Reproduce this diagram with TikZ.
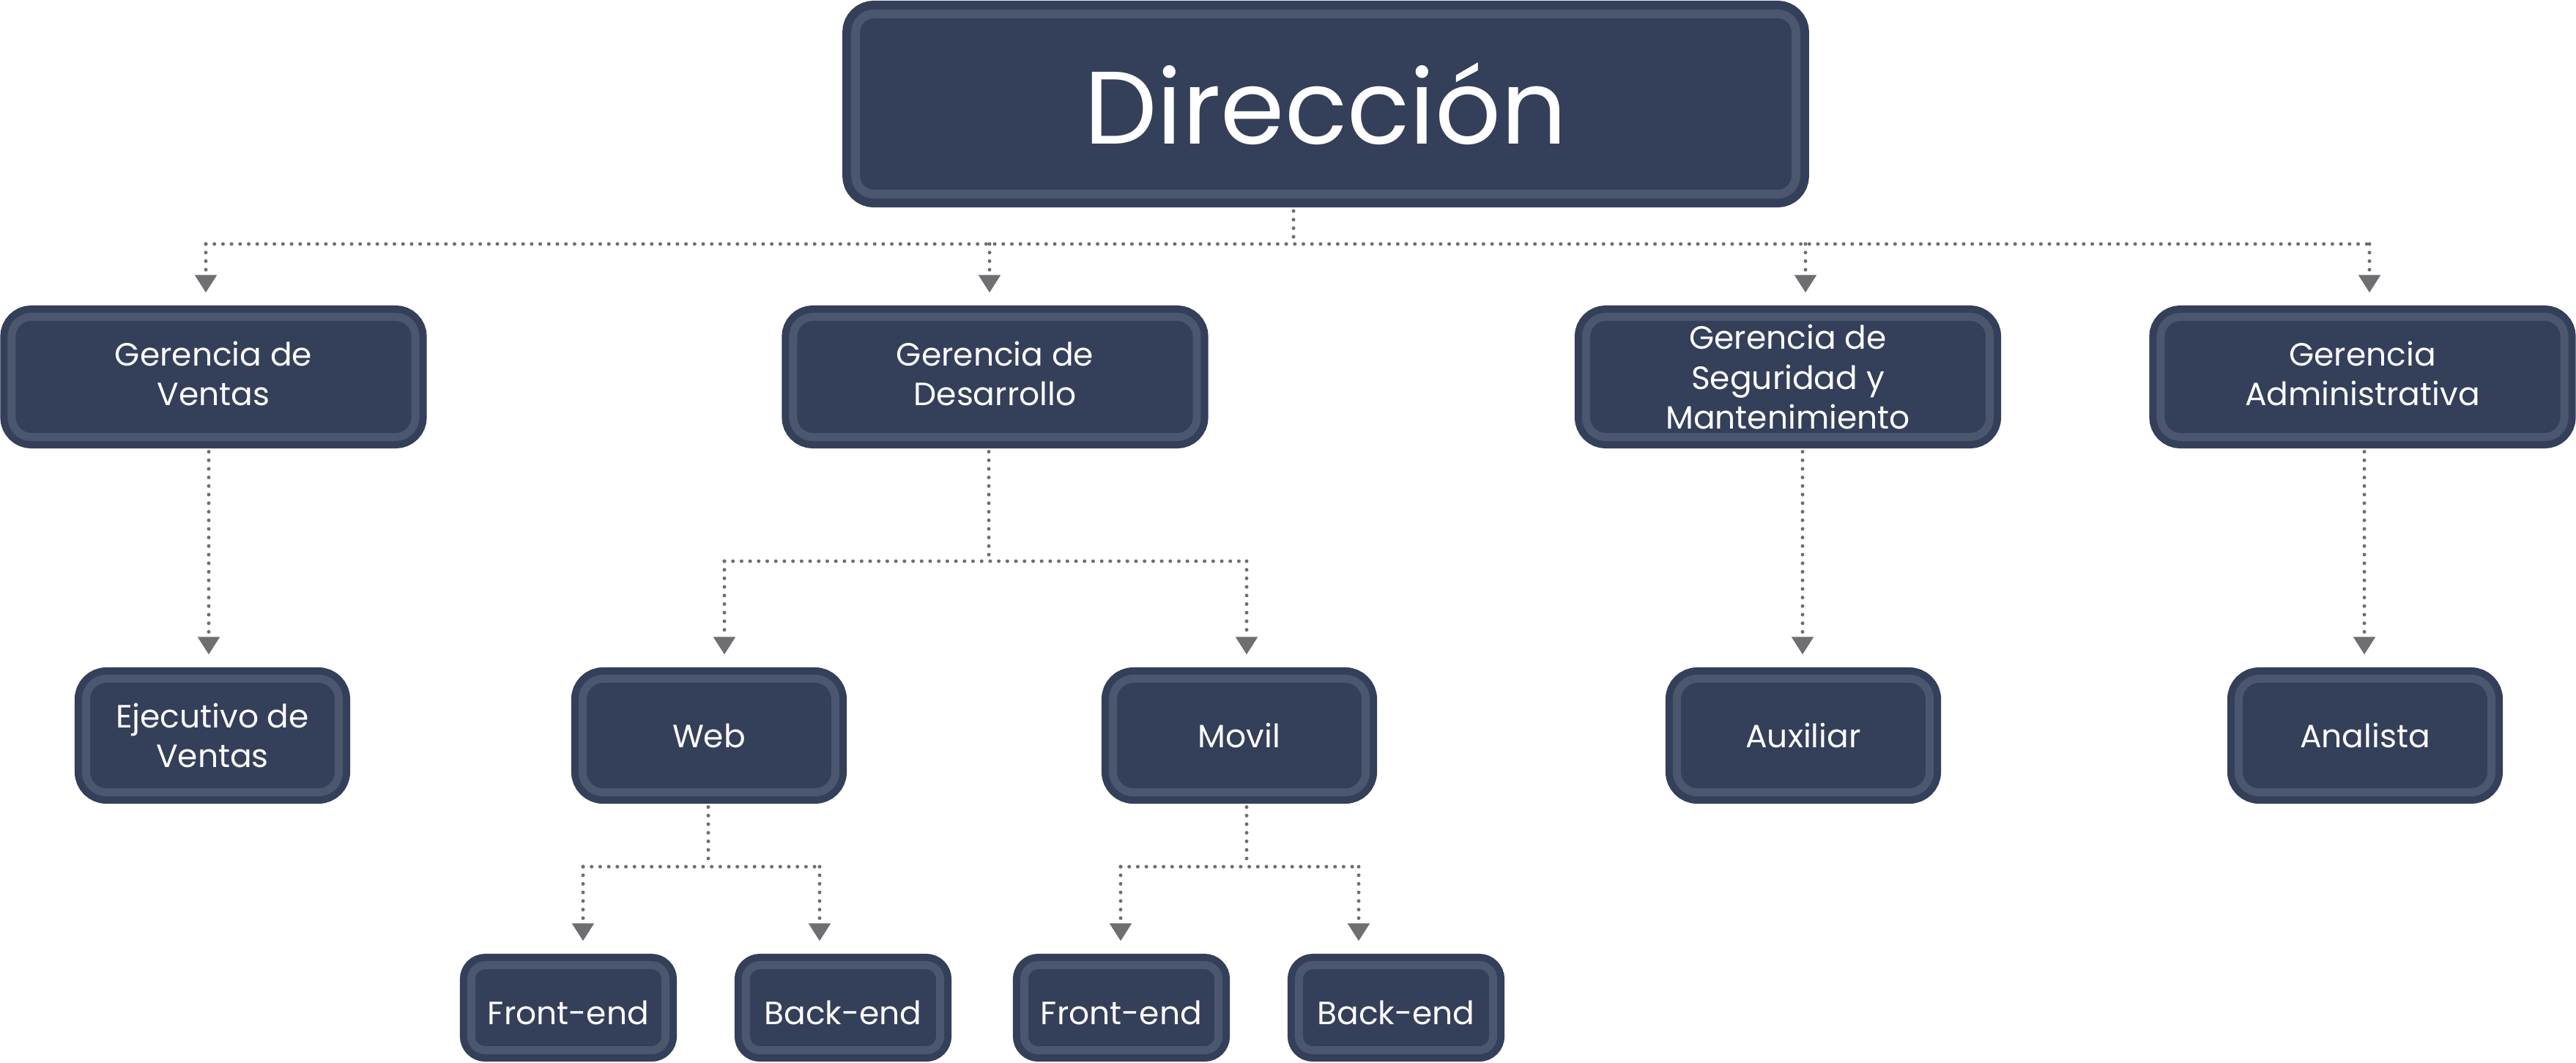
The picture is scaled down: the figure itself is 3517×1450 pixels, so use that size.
\documentclass[tikz,border=0pt]{standalone}
\usepackage{fontspec}
\setmainfont{Poppins}
\usetikzlibrary{arrows.meta}
\definecolor{boxfill}{HTML}{343F5A}
\definecolor{boxring}{HTML}{4B566F}
\definecolor{dotgray}{HTML}{6E6F73}
\tikzset{
  orgbox/.style={rounded corners=0.26cm, fill=boxfill, draw=boxfill, double=boxring,
    line width=0.10cm, double distance=0.11cm, text=white, align=center,
    inner sep=0pt, outer sep=0pt, font=\fontsize{12.5}{15.4}\selectfont},
  lvlone/.style={orgbox, rounded corners=0.27cm, minimum width=5.51cm, minimum height=1.64cm},
  lvltwo/.style={orgbox, rounded corners=0.28cm, minimum width=3.45cm, minimum height=1.55cm},
  lvlthree/.style={orgbox, rounded corners=0.19cm, minimum width=2.65cm, minimum height=1.16cm, text height=0.45cm, text depth=0pt},
  topbox/.style={orgbox, rounded corners=0.25cm, line width=0.12cm, double distance=0.12cm,
    minimum width=12.83cm, minimum height=2.46cm, font=\fontsize{40}{48}\selectfont},
  twoline/.style={text depth=0.09cm},
  dotline/.style={draw=dotgray, line width=0.05cm, dash pattern=on 0pt off 0.117cm, line cap=round},
  dotarrow/.style={dotline, -{Triangle[width=0.29cm,length=0.24cm]}, shorten >=0.33cm},
}
\begin{document}
\begin{tikzpicture}[x=0.01cm,y=-0.01cm]
\useasboundingbox (0,0) rectangle (3517,1450);
\fill[white] (0,0) rectangle (3517,1450);

% nodes
\node[topbox] (dir) at (1810,142) {Dirección};

\node[lvlone, twoline] (ventas) at (291.5,514.5) {Gerencia de\\Ventas};
\node[lvlone, twoline] (desa) at (1358.5,514.5) {Gerencia de\\Desarrollo};
\node[lvlone] (segu) at (2441,514.5) {Gerencia de\\Seguridad y\\Mantenimiento};
\node[lvlone, twoline] (admin) at (3225.5,514.5) {Gerencia\\Administrativa};

\node[lvltwo] (ejec) at (290,1004) {Ejecutivo de\\Ventas};
\node[lvltwo] (web) at (968,1004) {Web};
\node[lvltwo] (movil) at (1692,1004) {Movil};
\node[lvltwo] (aux) at (2462,1004) {Auxiliar};
\node[lvltwo] (anal) at (3229,1004) {Analista};

\node[lvlthree] (fe1) at (776,1375.5) {Front-end};
\node[lvlthree] (be1) at (1151,1375.5) {Back-end};
\node[lvlthree] (fe2) at (1531,1375.5) {Front-end};
\node[lvlthree] (be2) at (1906,1375.5) {Back-end};

% helper coordinates
\coordinate (xdir) at (1766,333);
\coordinate (bar0l) at (281,333);
\coordinate (bar0r) at (3235,333);
\coordinate (xd1) at (1351,333);
\coordinate (xd2) at (2465,333);

\coordinate (xv) at (285,0);
\coordinate (xs) at (2461,0);
\coordinate (xa) at (3228,0);
\coordinate (xdes) at (1350,766);
\coordinate (bar1l) at (989,766);
\coordinate (bar1r) at (1702,766);

\coordinate (xweb) at (967,1183);
\coordinate (bar2l) at (796,1183);
\coordinate (bar2r) at (1119,1183);
\coordinate (xmov) at (1702,1183);
\coordinate (bar3l) at (1530,1183);
\coordinate (bar3r) at (1855,1183);

% level 0 -> 1
\draw[dotline, shorten <=0.23cm] (dir.south -| xdir) -- (xdir);
\draw[dotline] (bar0l) -- (bar0r);
\draw[dotarrow] (bar0l) -- (ventas.north -| bar0l);
\draw[dotarrow] (xd1) -- (desa.north -| xd1);
\draw[dotarrow] (xd2) -- (segu.north -| xd2);
\draw[dotarrow] (bar0r) -- (admin.north -| bar0r);

% level 1 -> 2
\draw[dotarrow, shorten <=0.2cm] (ventas.south -| xv) -- (ejec.north -| xv);
\draw[dotarrow, shorten <=0.2cm] (segu.south -| xs) -- (aux.north -| xs);
\draw[dotarrow, shorten <=0.2cm] (admin.south -| xa) -- (anal.north -| xa);
\draw[dotline, shorten <=0.2cm] (desa.south -| xdes) -- (xdes);
\draw[dotline] (bar1l) -- (bar1r);
\draw[dotarrow] (bar1l) -- (web.north -| bar1l);
\draw[dotarrow] (bar1r) -- (movil.north -| bar1r);

% level 2 -> 3
\draw[dotline, shorten <=0.2cm] (web.south -| xweb) -- (xweb);
\draw[dotline] (bar2l) -- (bar2r);
\draw[dotarrow] (bar2l) -- (fe1.north -| bar2l);
\draw[dotarrow] (bar2r) -- (be1.north -| bar2r);
\draw[dotline, shorten <=0.2cm] (movil.south -| xmov) -- (xmov);
\draw[dotline] (bar3l) -- (bar3r);
\draw[dotarrow] (bar3l) -- (fe2.north -| bar3l);
\draw[dotarrow] (bar3r) -- (be2.north -| bar3r);
\end{tikzpicture}
\end{document}
